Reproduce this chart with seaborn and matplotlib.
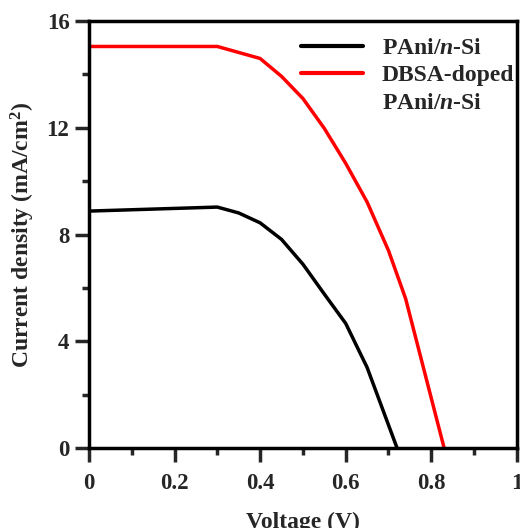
import pandas as pd
import matplotlib.pyplot as plt
import seaborn as sns
from matplotlib.ticker import MultipleLocator
from matplotlib.lines import Line2D

# J-V data
v_pani = [0.0, 0.30, 0.35, 0.40, 0.45, 0.50, 0.55, 0.60, 0.65, 0.72]
j_pani = [8.88, 9.03, 8.81, 8.44, 7.82, 6.89, 5.77, 4.67, 3.02, 0.0]

v_dbsa = [0.0, 0.30, 0.40, 0.45, 0.50, 0.55, 0.60, 0.65, 0.70, 0.74, 0.83]
j_dbsa = [15.05, 15.05, 14.6, 13.93, 13.1, 11.98, 10.67, 9.22, 7.4, 5.6, 0.0]

x_ticks = [0, 0.2, 0.4, 0.6, 0.8, 1]
x_labels = ["0", "0.2", "0.4", "0.6", "0.8", "1"]
y_ticks = [0, 4, 8, 12, 16]
y_labels = ["0", "4", "8", "12", "16"]

labels = ["PAni/n-Si", "DBSA-doped PAni/n-Si"]

df = pd.concat([
    pd.DataFrame({"V": v_pani, "J": j_pani, "sample": labels[0]}),
    pd.DataFrame({"V": v_dbsa, "J": j_dbsa, "sample": labels[1]}),
])

sns.set_style("ticks")
plt.rcParams["font.family"] = ["Liberation Serif", "DejaVu Serif"]
plt.rcParams["font.weight"] = "bold"
plt.rcParams["mathtext.fontset"] = "custom"
plt.rcParams["mathtext.bfit"] = "Liberation Serif:bold:italic"
plt.rcParams["mathtext.it"] = "Liberation Serif:italic"
plt.rcParams["mathtext.bf"] = "Liberation Serif:bold"
plt.rcParams["mathtext.rm"] = "Liberation Serif"

fig = plt.figure(figsize=(5.2, 5.28), dpi=100)
ax = fig.add_axes([0.171, 0.1515, 0.823, 0.8085])

sns.lineplot(data=df, x="V", y="J", hue="sample", palette=["black", "red"],
             linewidth=2.5, ax=ax, sort=False, estimator=None, legend=False)

ax.set_xticks(x_ticks, x_labels)
ax.set_yticks(y_ticks, y_labels)
ax.xaxis.set_minor_locator(MultipleLocator(0.1))
ax.yaxis.set_minor_locator(MultipleLocator(2))
ax.set_xlim(0, 1)
ax.set_ylim(0, 16)

for s in ax.spines.values():
    s.set_linewidth(2.5)
    s.set_color("black")
ax.tick_params(which="major", direction="out", length=10, width=2.5,
               labelsize=16.5)
ax.tick_params(axis="x", which="major", pad=8)
ax.tick_params(axis="y", which="major", pad=4)
ax.tick_params(which="minor", direction="out", length=5, width=2.5)
for t in ax.get_xticklabels() + ax.get_yticklabels():
    t.set_fontweight("bold")

ax.set_xlabel("Voltage (V)", fontsize=17, fontweight="bold", labelpad=13)
ax.set_ylabel("Current density (mA/cm$^{\\mathbf{2}}$)", fontsize=17,
              fontweight="bold", labelpad=7)

# legend: second label wraps, handle sits on its first line
handles = [Line2D([], [], color="black", lw=3),
           Line2D([], [], color="red", lw=3),
           Line2D([], [], color="none", lw=0)]
texts = ["PAni/$\\mathbfit{n}$-Si", "DBSA-doped", "PAni/$\\mathbfit{n}$-Si"]
leg = ax.legend(handles, texts, loc="upper right",
                bbox_to_anchor=(1.027, 0.995), frameon=False, fontsize=17,
                handlelength=2.6, borderaxespad=0.2, labelspacing=0.25,
                handletextpad=0.8)
for t in leg.get_texts():
    t.set_fontweight("bold")

fig.savefig("out.png", dpi=100)
